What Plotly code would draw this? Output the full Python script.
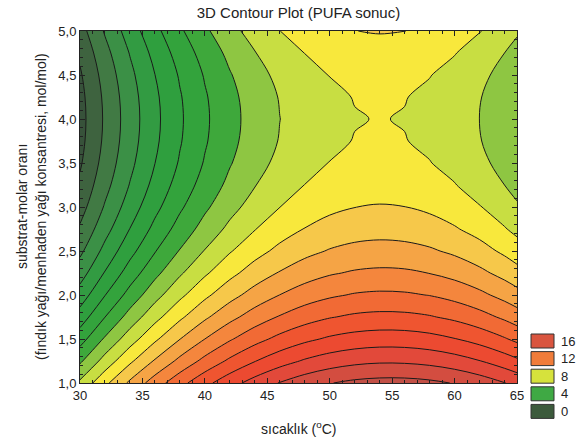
import plotly.graph_objects as go

# sıcaklık (°C) grid columns
temperature = [30, 32, 34, 36, 38, 40, 42, 44, 46, 48, 50, 52, 54, 56, 58, 60, 62, 64, 65]
# substrat-molar oranı grid rows
molar_ratio = [1.0, 1.25, 1.5, 1.75, 2.0, 2.25, 2.5, 2.75, 3.0, 3.25, 3.5, 3.75, 4.0, 4.25, 4.5, 4.75, 5.0]

# PUFA sonuc values (rows = molar_ratio, cols = temperature)
pufa = [
    [7.20, 8.76, 10.19, 11.50, 12.67, 13.71, 14.62, 15.40, 16.05, 16.57, 16.96, 17.22, 17.34, 17.34, 17.21, 16.95, 16.55, 16.03, 15.72],
    [5.83, 7.39, 8.81, 10.10, 11.26, 12.29, 13.19, 13.96, 14.60, 15.11, 15.49, 15.74, 15.86, 15.84, 15.70, 15.43, 15.03, 14.49, 14.18],
    [4.58, 6.13, 7.54, 8.82, 9.98, 11.00, 11.89, 12.65, 13.28, 13.78, 14.15, 14.39, 14.50, 14.48, 14.33, 14.04, 13.63, 13.09, 12.77],
    [3.46, 4.99, 6.40, 7.67, 8.81, 9.83, 10.71, 11.46, 12.08, 12.58, 12.94, 13.17, 13.27, 13.24, 13.08, 12.79, 12.37, 11.82, 11.49],
    [2.45, 3.97, 5.37, 6.64, 7.77, 8.78, 9.65, 10.40, 11.01, 11.50, 11.85, 12.08, 12.17, 12.13, 11.97, 11.67, 11.24, 10.68, 10.35],
    [1.55, 3.07, 4.47, 5.73, 6.86, 7.85, 8.72, 9.46, 10.07, 10.55, 10.90, 11.11, 11.20, 11.16, 10.98, 10.68, 10.24, 9.68, 9.35],
    [0.78, 2.30, 3.68, 4.94, 6.06, 7.05, 7.92, 8.65, 9.25, 9.72, 10.07, 10.28, 10.36, 10.31, 10.13, 9.82, 9.38, 8.81, 8.47],
    [0.13, 1.64, 3.02, 4.27, 5.39, 6.38, 7.23, 7.96, 8.56, 9.03, 9.36, 9.57, 9.65, 9.59, 9.41, 9.09, 8.65, 8.07, 7.74],
    [-0.41, 1.10, 2.48, 3.72, 4.84, 5.82, 6.68, 7.40, 7.99, 8.46, 8.79, 8.99, 9.06, 9.01, 8.82, 8.50, 8.05, 7.47, 7.13],
    [-0.82, 0.68, 2.05, 3.30, 4.41, 5.39, 6.24, 6.96, 7.55, 8.01, 8.34, 8.54, 8.61, 8.55, 8.36, 8.04, 7.58, 7.00, 6.66],
    [-1.12, 0.38, 1.75, 2.99, 4.10, 5.08, 5.93, 6.65, 7.24, 7.70, 8.02, 8.22, 8.29, 8.23, 8.03, 7.71, 7.25, 6.67, 6.33],
    [-1.30, 0.20, 1.57, 2.81, 3.92, 4.90, 5.74, 6.46, 7.05, 7.51, 7.83, 8.03, 8.09, 8.03, 7.83, 7.51, 7.05, 6.47, 6.12],
    [-1.36, 0.14, 1.51, 2.75, 3.86, 4.84, 5.68, 6.40, 6.99, 7.44, 7.77, 7.96, 8.03, 7.96, 7.77, 7.44, 6.99, 6.40, 6.06],
    [-1.30, 0.20, 1.57, 2.81, 3.92, 4.90, 5.74, 6.46, 7.05, 7.51, 7.83, 8.03, 8.09, 8.03, 7.83, 7.51, 7.05, 6.47, 6.12],
    [-1.12, 0.38, 1.75, 2.99, 4.10, 5.08, 5.93, 6.65, 7.24, 7.70, 8.02, 8.22, 8.29, 8.23, 8.03, 7.71, 7.25, 6.67, 6.33],
    [-0.82, 0.68, 2.05, 3.30, 4.41, 5.39, 6.24, 6.96, 7.55, 8.01, 8.34, 8.54, 8.61, 8.55, 8.36, 8.04, 7.58, 7.00, 6.66],
    [-0.41, 1.10, 2.48, 3.72, 4.84, 5.82, 6.68, 7.40, 7.99, 8.46, 8.79, 8.99, 9.06, 9.01, 8.82, 8.50, 8.05, 7.47, 7.13],
]

legend_levels = [16, 12, 8, 4, 0]
legend_colors = ["#d9553f", "#f07c3a", "#d6e23c", "#3fa944", "#3c5a3c"]

band_colors = ["#37523a", "#3e633f", "#417a44", "#3b9046", "#329b42", "#2f9f3e", "#33a33c", "#3ea83b",
               "#8ec642", "#c8de42", "#f8e83c", "#f6c84a", "#f5a445", "#f4863d", "#f16a35", "#ef5530",
               "#ec4a31", "#e2493a", "#d34d40", "#c25046"]
n = len(band_colors) - 1
scale = []
for i, c in enumerate(band_colors):
    lo = 0 if i == 0 else (i - 0.5) / n
    hi = 1 if i == n else (i + 0.5) / n
    scale.append([lo, c])
    scale.append([hi, c])

fig = go.Figure(go.Contour(
    x=temperature, y=molar_ratio, z=pufa,
    autocontour=False,
    contours=dict(start=-1, end=17, size=1, coloring="fill"),
    colorscale=scale, showscale=False,
    line=dict(color="#1a1a1a", width=1),
    hoverinfo="skip",
))

font = "Liberation Sans, Arial, sans-serif"
fig.update_layout(
    width=577, height=443,
    margin=dict(l=80, r=60, t=31, b=60, pad=0),
    paper_bgcolor="white", plot_bgcolor="white",
    separators=",.",
    font=dict(family=font, size=13, color="#222"),
    title=dict(text="3D Contour Plot (PUFA sonuc)", x=(298.5 / 577), xanchor="center",
               y=1 - 13 / 443, yanchor="middle", yref="container", font=dict(size=15, color="#222")),
    xaxis=dict(range=[30, 65], dtick=5, tick0=30, ticks="inside", ticklen=5, tickcolor="#222",
               showline=True, linecolor="#222", linewidth=1, mirror="ticks", showgrid=False, zeroline=False,
               minor=dict(dtick=1, ticks="inside", ticklen=3, tickcolor="#222"),
               tickfont=dict(size=13)),
    yaxis=dict(range=[1, 5], dtick=0.5, tick0=1, tickformat=".1f", ticks="inside", ticklen=5, tickcolor="#222",
               showline=True, linecolor="#222", linewidth=1, mirror="ticks", showgrid=False, zeroline=False,
               minor=dict(dtick=0.1, ticks="inside", ticklen=3, tickcolor="#222"),
               tickfont=dict(size=13)),
)

ann = [
    dict(text="sıcaklık (<sup>o</sup>C)", x=0.5, y=(383 - 428) / 352, xref="paper", yref="paper",
         showarrow=False, font=dict(size=14), xanchor="center", yanchor="middle"),
    dict(text="substrat-molar oranı", x=(22 - 80) / 437, y=0.5, xref="paper", yref="paper",
         showarrow=False, textangle=-90, font=dict(size=14), xanchor="center", yanchor="middle"),
    dict(text="(fındık yağı/menhaden yağı konsantresi, mol/mol)", x=(41 - 80) / 437, y=0.5, xref="paper",
         yref="paper", showarrow=False, textangle=-90, font=dict(size=14), xanchor="center", yanchor="middle"),
]
shapes = []
for i, (lev, col) in enumerate(zip(legend_levels, legend_colors)):
    top = 334 + i * 17.6
    shapes.append(dict(type="rect", xref="paper", yref="paper",
                       x0=(531 - 80) / 437, x1=(554 - 80) / 437,
                       y0=(383 - top - 14) / 352, y1=(383 - top) / 352,
                       fillcolor=col, line=dict(color="#333", width=1)))
    ann.append(dict(text=str(lev), x=(559 - 80) / 437, y=(383 - top - 7) / 352, xref="paper", yref="paper",
                    showarrow=False, xanchor="left", yanchor="middle", font=dict(size=13)))
fig.update_layout(annotations=ann, shapes=shapes)

fig.write_html("out.html", config={"displayModeBar": False},
               post_script="document.body.style.margin='0px';document.body.style.overflow='hidden';")
